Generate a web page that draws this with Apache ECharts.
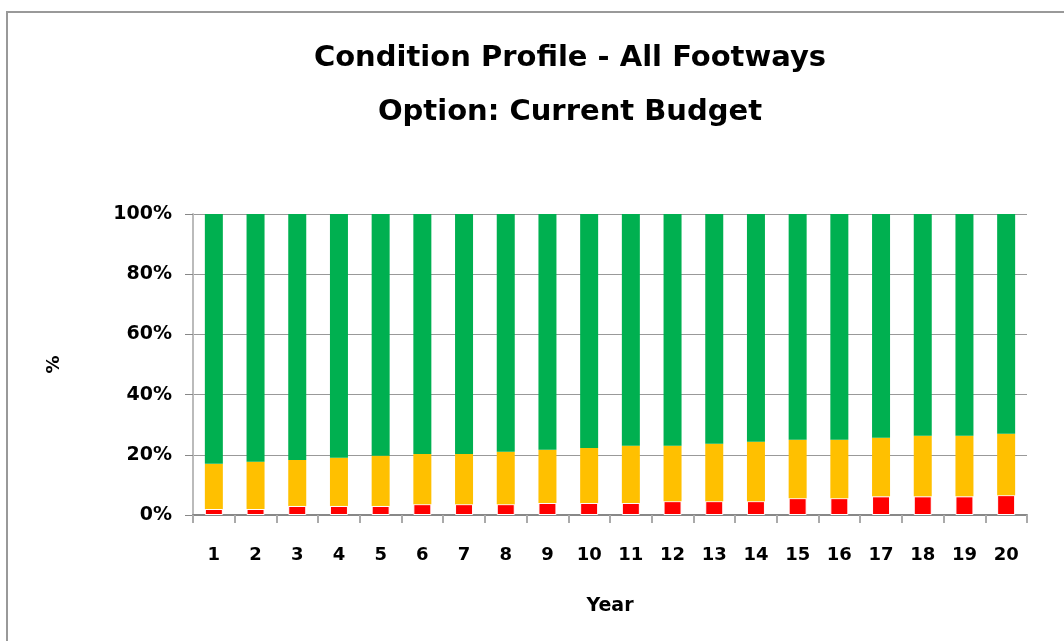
<!DOCTYPE html>
<html>
<head>
<meta charset="utf-8">
<script src="https://cdn.jsdelivr.net/npm/echarts@6/dist/echarts.min.js"></script>
<style>
html, body { margin: 0; padding: 0; background: #fff; overflow: hidden; }
#frame { position: absolute; left: 6px; top: 11px; width: 1200px; height: 800px; border-left: 2px solid #999; border-top: 2px solid #999; }
#chart { position: absolute; left: 0; top: 0; width: 1064px; height: 641px; }
</style>
</head>
<body>
<div id="frame"></div>
<div id="chart"></div>
<script>
var years = ['1','2','3','4','5','6','7','8','9','10','11','12','13','14','15','16','17','18','19','20'];
// red: poor condition share (%)
var redVals = [2.0, 2.0, 3.0, 3.0, 3.0, 3.6, 3.6, 3.6, 4.0, 4.0, 4.0, 4.6, 4.6, 4.6, 5.6, 5.6, 6.2, 6.2, 6.2, 6.6];
// amber: cumulative top of red+amber, minus red
var amberTop = [17.0, 17.7, 18.3, 19.0, 19.7, 20.3, 20.3, 21.0, 21.7, 22.3, 23.0, 23.0, 23.7, 24.3, 25.0, 25.0, 25.7, 26.3, 26.3, 27.0];
var amberVals = [];
var greenVals = [];
for (var i = 0; i < years.length; i++) {
	amberVals.push(+(amberTop[i] - redVals[i]).toFixed(1));
	greenVals.push(+(100 - amberTop[i]).toFixed(1));
}
var yTicks = [0, 20, 40, 60, 80, 100];

var font = '"DejaVu Sans", sans-serif';
var chart = echarts.init(document.getElementById('chart'));
chart.setOption({
	animation: false,
	textStyle: { fontFamily: font },
	title: [{
		text: 'Condition Profile - All Footways',
		left: 565, top: 39, textAlign: 'center',
		textStyle: { fontSize: 29, fontWeight: 'bold', color: '#000', fontFamily: font }
	}, {
		text: 'Option: Current Budget',
		left: 565, top: 93, textAlign: 'center',
		textStyle: { fontSize: 29, fontWeight: 'bold', color: '#000', fontFamily: font }
	}],
	grid: { left: 193, right: 37, top: 214, bottom: 126 },
	xAxis: {
		type: 'category',
		data: years,
		name: 'Year',
		nameLocation: 'middle',
		nameGap: 82,
		nameTextStyle: { fontSize: 19, fontWeight: 'bold', color: '#000', fontFamily: font },
		axisLine: { lineStyle: { color: '#888', width: 2 } },
		axisTick: { show: true, length: 8, lineStyle: { color: '#aaa', width: 2 } },
		axisLabel: { fontSize: 18, fontWeight: 'bold', color: '#000', margin: 31, fontFamily: font }
	},
	yAxis: {
		type: 'value',
		min: 0, max: 100, interval: 20,
		name: '%',
		nameLocation: 'middle',
		nameGap: 130,
		nameRotate: 90,
		nameTextStyle: { fontSize: 18, fontWeight: 'bold', color: '#000', fontFamily: font },
		axisLine: { show: true, lineStyle: { color: '#bbb', width: 2 } },
		axisTick: { show: true, length: 8, lineStyle: { color: '#888' } },
		axisLabel: {
			fontSize: 19, fontWeight: 'bold', color: '#000', margin: 21, fontFamily: font,
			formatter: function(v) { return yTicks.indexOf(v) >= 0 ? v + '%' : ''; }
		},
		splitLine: { show: true, lineStyle: { color: '#999', width: 1 } }
	},
	series: [{
		name: 'Poor', type: 'bar', stack: 'total', barWidth: 18,
		itemStyle: { color: '#ff0000', borderColor: '#fff', borderWidth: 1 },
		data: redVals
	}, {
		name: 'Fair', type: 'bar', stack: 'total', barWidth: 18,
		itemStyle: { color: '#ffc000' },
		data: amberVals
	}, {
		name: 'Good', type: 'bar', stack: 'total', barWidth: 18,
		itemStyle: { color: '#00b050' },
		data: greenVals
	}]
});
</script>
</body>
</html>
